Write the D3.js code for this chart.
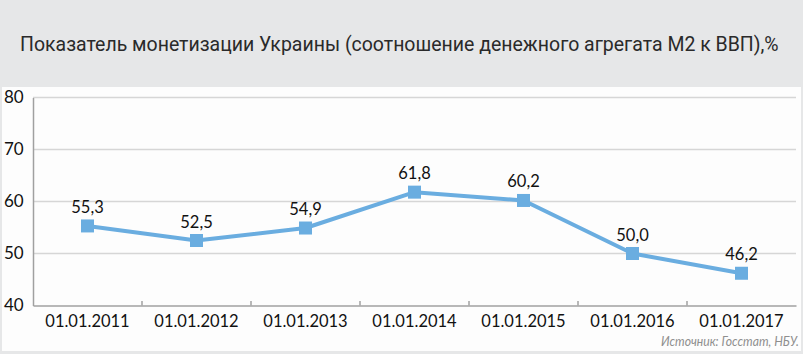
<!DOCTYPE html>
<html><head><meta charset="utf-8">
<script src="https://cdn.jsdelivr.net/npm/d3@7"></script>
<style>html,body{margin:0;padding:0;background:#e6e7e8;}svg{display:block;}</style>
</head><body>
<script>
const categories = ["01.01.2011","01.01.2012","01.01.2013","01.01.2014","01.01.2015","01.01.2016","01.01.2017"];
const values = [55.3, 52.5, 54.9, 61.8, 60.2, 50.0, 46.2];
const valueLabels = ["55,3","52,5","54,9","61,8","60,2","50,0","46,2"];
const yTicks = [40, 50, 60, 70, 80];
const title = "Показатель монетизации Украины (соотношение денежного агрегата М2 к ВВП),%";
const source = "Источник: Госстат, НБУ.";

const W = 803, H = 354;
const svg = d3.select("body").append("svg").attr("width", W).attr("height", H);
svg.append("rect").attr("width", W).attr("height", H).attr("fill", "#e6e7e8");
svg.append("rect").attr("x", 2).attr("y", 87).attr("width", 799).attr("height", 264).attr("fill", "#fdfdfd");

function fitText(g, txt, w) {
  const tw = txt.node().getComputedTextLength();
  return w / tw;
}

const tg = svg.append("g");
const t = tg.append("text").attr("x", 0).attr("y", 0)
  .attr("font-family", "Roboto, 'Noto Sans', sans-serif")
  .attr("font-size", 21).attr("fill", "#2a2a2a").text(title);
tg.attr("transform", `translate(20,50.5) scale(${fitText(tg, t, 759)},1)`);

const x = d3.scaleBand().domain(categories).range([33, 796]);
const y = d3.scaleLinear().domain([40, 80]).range([305.5, 97.5]);

// gridlines
svg.append("g").selectAll("line").data(yTicks.filter(d => d > 40)).join("line")
  .attr("x1", 33).attr("x2", 796).attr("y1", d => y(d)).attr("y2", d => y(d))
  .attr("stroke", "#d6d6d6").attr("stroke-width", 1.5);

// y axis
const yAxis = svg.append("g").attr("transform", "translate(33,0)")
  .call(d3.axisLeft(y).tickValues(yTicks).tickSize(0).tickPadding(9));
yAxis.select(".domain").attr("stroke", "#a0a0a0").attr("stroke-width", 1.5);
yAxis.selectAll("text").attr("font-family", "Lato, sans-serif").attr("font-size", 17).attr("fill", "#111")
  .attr("text-anchor", "start").attr("x", -29).attr("dy", "0.32em");

// x axis
const xAxis = svg.append("g").attr("transform", "translate(0,305.5)")
  .call(d3.axisBottom(x).tickSize(0).tickPadding(10));
xAxis.select(".domain").attr("stroke", "#a0a0a0").attr("stroke-width", 1.5);
xAxis.selectAll("text").attr("font-family", "Lato, sans-serif").attr("font-size", 16.5).attr("fill", "#111");
// boundary ticks
svg.append("g").selectAll("line").data(categories.slice(1)).join("line")
  .attr("x1", d => x(d)).attr("x2", d => x(d)).attr("y1", 305.5).attr("y2", 301)
  .attr("stroke", "#a0a0a0").attr("stroke-width", 1.5);

const cx = d => x(d) + x.bandwidth() / 2;
const color = "#6aade0";
const pts = categories.map((c, i) => ({c, v: values[i], l: valueLabels[i]}));
svg.append("path").datum(pts)
  .attr("d", d3.line().x(d => cx(d.c)).y(d => y(d.v)))
  .attr("fill", "none").attr("stroke", color).attr("stroke-width", 4).attr("stroke-linejoin", "round");
svg.append("g").selectAll("rect").data(pts).join("rect")
  .attr("x", d => cx(d.c) - 6.5).attr("y", d => y(d.v) - 6.5).attr("width", 13).attr("height", 13)
  .attr("fill", color);
svg.append("g").selectAll("text").data(pts).join("text")
  .attr("x", d => cx(d.c)).attr("y", d => y(d.v) - 13)
  .attr("text-anchor", "middle").attr("font-family", "Lato, sans-serif").attr("font-size", 16.5).attr("fill", "#111")
  .text(d => d.l);

const sg = svg.append("g");
const s = sg.append("text").attr("x", 0).attr("y", 0).attr("text-anchor", "start")
  .attr("font-family", "Lato, sans-serif").attr("font-style", "italic").attr("font-size", 14).attr("fill", "#8f8f8f")
  .text(source);
sg.attr("transform", `translate(661,346) scale(${fitText(sg, s, 138)},1)`);
</script>
</body></html>
